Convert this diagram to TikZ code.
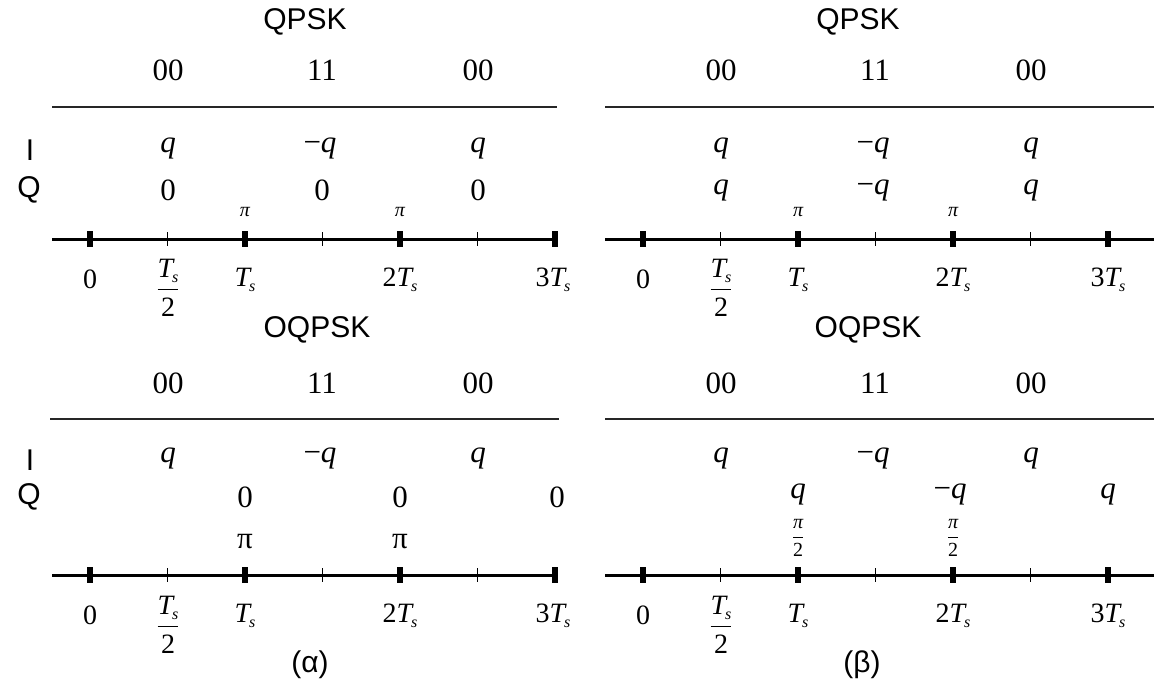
\documentclass[tikz,border=0pt]{standalone}
\usepackage{fontspec}
\setmainfont{Liberation Serif}
\newfontfamily\labelfont{Liberation Sans}
\usetikzlibrary{positioning}

\newcommand{\Ts}{{\itshape T}\kern-0.6pt\raisebox{-2.5pt}{\fontsize{8}{8}\selectfont\itshape s}}
\newcommand{\halfTs}{$\displaystyle\frac{\hbox{\Ts}}{\hbox{2}}$}
\newcommand{\pq}{{\itshape q}}
\newcommand{\mq}{−{\itshape q}}

\begin{document}
\begin{tikzpicture}[
  x=0.5pt, y=-0.5pt,
  title/.style={font=\labelfont\fontsize{15}{17}\selectfont, inner sep=0pt},
  iq/.style={font=\labelfont\fontsize{15}{17}\selectfont, inner sep=0pt},
  val/.style={font=\fontsize{15.5}{18}\selectfont, inner sep=0pt},
  tlabel/.style={font=\fontsize{14}{16}\selectfont, inner sep=0pt},
  phase/.style={font=\fontsize{10}{11}\selectfont\itshape, inner sep=0pt},
  rule/.style={line width=1.2pt, draw=black!85},
  axis/.style={line width=1.5pt},
  bigtick/.style={line width=2.6pt},
  smalltick/.style={line width=0.6pt}
]
\useasboundingbox (0,0) rectangle (1154,685);

% ---- (a) QPSK
\node[title] (qpskA) at (305,22) {QPSK};
\foreach \x/\b [count=\i] in {168/00,322/11,478/00}
  \node[val] (bitsA\i) at (\x,70) {\b};
\draw[rule] (52,107) -- (557,107);
\node[iq] (ilabA) at (30,150) {I};
\node[iq] (qlabA) at (29,190) {Q};
\foreach \x/\v [count=\i] in {168/\pq,320/\mq,478/\pq}
  \node[val] (ivalA\i) at (\x,148) {\v};
\foreach \x [count=\i] in {168,322,478}
  \node[val] (qvalA\i) at (\x,190) {0};
\foreach \x [count=\i] in {245,400}
  \node[phase] (phA\i) at (\x,212) {π};
\draw[axis] (52,239) -- (555,239);
\foreach \k in {0,2,4,6} \draw[bigtick] ({90+77.5*\k},231) -- ++(0,16);
\foreach \k in {1,3,5} \draw[smalltick] ({90+77.5*\k},232) -- ++(0,14);
\node[tlabel] (tA0) at (90,279) {0};
\node[tlabel] (tA1) at (168,288) {\halfTs};
\node[tlabel] (tA2) at (245,280) {\Ts};
\node[tlabel] (tA4) at (400,280) {2\Ts};
\node[tlabel] (tA6) at (553,280) {3\Ts};

% ---- (b) QPSK
\node[title] (qpskB) at (858,22) {QPSK};
\foreach \x/\b [count=\i] in {721/00,875/11,1031/00}
  \node[val] (bitsB\i) at (\x,70) {\b};
\draw[rule] (605,107) -- (1154,107);
\foreach \x/\v [count=\i] in {721/\pq,873/\mq,1031/\pq}
  \node[val] (ivalB\i) at (\x,148) {\v};
\foreach \x/\v [count=\i] in {721/\pq,873/\mq,1031/\pq}
  \node[val] (qvalB\i) at (\x,190) {\v};
\foreach \x [count=\i] in {798,953}
  \node[phase] (phB\i) at (\x,212) {π};
\draw[axis] (605,239) -- (1154,239);
\foreach \k in {0,2,4,6} \draw[bigtick] ({643+77.5*\k},231) -- ++(0,16);
\foreach \k in {1,3,5} \draw[smalltick] ({643+77.5*\k},232) -- ++(0,14);
\node[tlabel] (tB0) at (643,279) {0};
\node[tlabel] (tB1) at (721,288) {\halfTs};
\node[tlabel] (tB2) at (798,280) {\Ts};
\node[tlabel] (tB4) at (953,280) {2\Ts};
\node[tlabel] (tB6) at (1108,280) {3\Ts};

% ---- (a) OQPSK
\node[title] (oqpskA) at (317,330) {OQPSK};
\foreach \x/\b [count=\i] in {168/00,322/11,478/00}
  \node[val] (obitsA\i) at (\x,383) {\b};
\draw[rule] (50,419) -- (559,419);
\node[iq] (oilabA) at (30,460) {I};
\node[iq] (oqlabA) at (29,497) {Q};
\foreach \x/\v [count=\i] in {168/\pq,320/\mq,478/\pq}
  \node[val] (oivalA\i) at (\x,458) {\v};
\foreach \x [count=\i] in {245,400,557}
  \node[val] (oqvalA\i) at (\x,497) {0};
\foreach \x [count=\i] in {245,400}
  \node[val] (ophA\i) at (\x,542) {π};
\draw[axis] (52,575) -- (555,575);
\foreach \k in {0,2,4,6} \draw[bigtick] ({90+77.5*\k},567) -- ++(0,16);
\foreach \k in {1,3,5} \draw[smalltick] ({90+77.5*\k},568) -- ++(0,14);
\node[tlabel] (otA0) at (90,615) {0};
\node[tlabel] (otA1) at (168,625) {\halfTs};
\node[tlabel] (otA2) at (245,616) {\Ts};
\node[tlabel] (otA4) at (400,616) {2\Ts};
\node[tlabel] (otA6) at (553,616) {3\Ts};
\node[title] (capA) at (310,665) {(α)};

% ---- (b) OQPSK
\node[title] (oqpskB) at (868,330) {OQPSK};
\foreach \x/\b [count=\i] in {721/00,875/11,1031/00}
  \node[val] (obitsB\i) at (\x,383) {\b};
\draw[rule] (605,419) -- (1154,419);
\foreach \x/\v [count=\i] in {721/\pq,873/\mq,1031/\pq}
  \node[val] (oivalB\i) at (\x,458) {\v};
\foreach \x/\v [count=\i] in {798/\pq,950/\mq,1108/\pq}
  \node[val] (oqvalB\i) at (\x,494) {\v};
\foreach \x [count=\i] in {798,953}
  \node[phase] (ophB\i) at (\x,538) {$\displaystyle\frac{\hbox{π}}{\hbox{\upshape 2}}$};
\draw[axis] (605,575) -- (1154,575);
\foreach \k in {0,2,4,6} \draw[bigtick] ({643+77.5*\k},567) -- ++(0,16);
\foreach \k in {1,3,5} \draw[smalltick] ({643+77.5*\k},568) -- ++(0,14);
\node[tlabel] (otB0) at (643,615) {0};
\node[tlabel] (otB1) at (721,625) {\halfTs};
\node[tlabel] (otB2) at (798,616) {\Ts};
\node[tlabel] (otB4) at (953,616) {2\Ts};
\node[tlabel] (otB6) at (1108,616) {3\Ts};
\node[title] (capB) at (862,665) {(β)};
\end{tikzpicture}
\end{document}
